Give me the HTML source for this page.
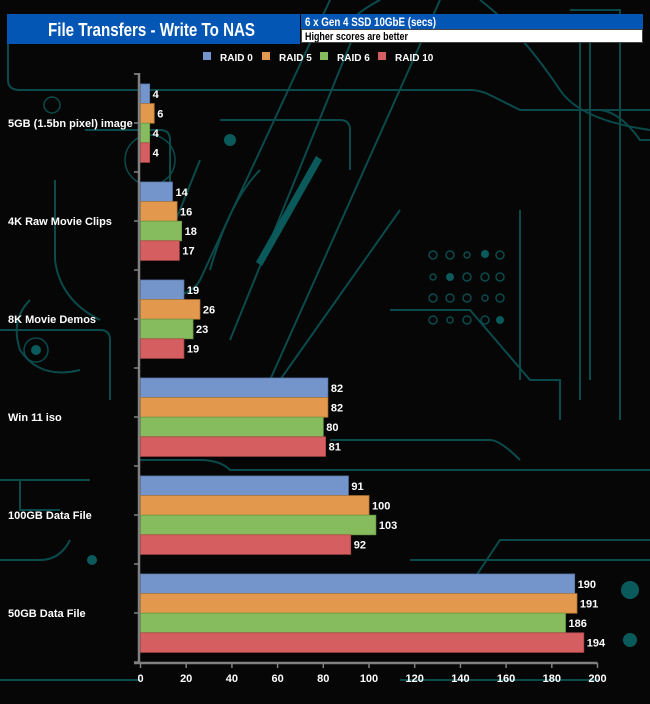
<!DOCTYPE html>
<html><head><meta charset="utf-8">
<style>
html,body{margin:0;padding:0;background:#050505;}
#wrap{position:relative;width:650px;height:704px;overflow:hidden;background:#060606;font-family:"Liberation Sans",Arial,sans-serif;}
svg{position:absolute;left:0;top:0;}
text{font-family:"Liberation Sans",Arial,sans-serif;}
</style></head>
<body>
<div id="wrap">
<svg id="bg" width="650" height="704">
 <g fill="none" stroke="#0b4a4b" stroke-width="2">
  <path d="M8 20 V80 Q8 90 20 90 H470 Q480 90 490 95 L520 110 H600 Q620 112 640 140 H650"/>
  <path d="M380 0 Q360 10 340 30"/>
  <path d="M480 0 Q520 30 560 90 Q580 120 650 130"/>
  <path d="M600 110 H650"/>
  <path d="M220 120 H340 Q350 120 350 130 V170"/>
  <path d="M85 130 H160 Q170 130 170 140 V220"/>
  <path d="M55 180 V260 Q60 300 100 320"/>
  <path d="M30 300 Q10 320 20 350 Q40 380 80 370"/>
  <path d="M0 330 H100 Q110 330 110 340 V400"/>
  <path d="M200 160 L160 260"/>
  <path d="M260 170 Q230 200 210 270"/>
  <path d="M330 0 L200 280 Q190 300 140 300"/>
  <path d="M360 20 L230 340"/>
  <path d="M440 0 L270 380 H140"/>
  <path d="M280 380 L400 210"/>
  <path d="M390 310 H470 L530 380 H560 V420"/>
  <path d="M520 210 V380"/>
  <path d="M570 10 H620 V420"/>
  <path d="M580 30 V400"/>
  <path d="M590 30 V380"/>
  <path d="M330 440 H490 Q500 440 520 460"/>
  <path d="M140 460 H200 Q220 460 230 470 H650"/>
  <path d="M0 480 H90"/>
  <path d="M20 480 V510 H60"/>
  <path d="M0 560 H40 Q60 560 70 540"/>
  <path d="M300 580 L250 640"/>
  <path d="M410 560 H650"/>
  <path d="M460 600 L500 540 H650"/>
  <path d="M0 680 H140"/>
  <path d="M400 680 H600"/>
 </g>
 <g fill="#0b5a5b">
  <circle cx="230" cy="140" r="6"/><circle cx="36" cy="350" r="5"/><circle cx="92" cy="560" r="5"/>
  <circle cx="630" cy="590" r="9"/><circle cx="630" cy="640" r="7"/><circle cx="510" cy="605" r="6"/>
  <circle cx="485" cy="254" r="4"/><circle cx="450" cy="277" r="4"/><circle cx="500" cy="320" r="4"/>
  <path d="M256 262 L316 156 L322 160 L262 266 Z"/>
 </g>
 <g fill="none" stroke="#0b4a4b" stroke-width="1.5">
  <circle cx="433" cy="255" r="4"/><circle cx="450" cy="255" r="4"/><circle cx="467" cy="255" r="3"/><circle cx="500" cy="255" r="4"/>
  <circle cx="433" cy="277" r="3"/><circle cx="467" cy="277" r="4"/><circle cx="485" cy="277" r="4"/><circle cx="500" cy="277" r="4"/>
  <circle cx="433" cy="298" r="4"/><circle cx="450" cy="298" r="4"/><circle cx="467" cy="298" r="4"/><circle cx="485" cy="298" r="3"/><circle cx="500" cy="298" r="4"/>
  <circle cx="433" cy="320" r="4"/><circle cx="450" cy="320" r="3"/><circle cx="467" cy="320" r="4"/><circle cx="485" cy="320" r="4"/>
  <circle cx="52" cy="105" r="8"/><circle cx="36" cy="350" r="12"/><circle cx="150" cy="160" r="25"/>
 </g>
</svg>
<svg id="chart" width="650" height="704"></svg>
</div>
<script>
const categories = ["5GB (1.5bn pixel) image","4K Raw Movie Clips","8K Movie Demos","Win 11 iso","100GB  Data File","50GB Data File"];
const seriesNames = ["RAID 0","RAID 5","RAID 6","RAID 10"];
const raid0 = [4,14,19,82,91,190];
const raid5 = [6,16,26,82,100,191];
const raid6 = [4,18,23,80,103,186];
const raid10 = [4,17,19,81,92,194];
const xTicks = [0,20,40,60,80,100,120,140,160,180,200];

const series = [raid0,raid5,raid6,raid10];
const colors = ["#7495cb","#e2994e","#86bc5e","#d55e60"];
const strokes = ["#5a77a8","#b87835","#6a9a47","#ad4648"];
const NS = "http://www.w3.org/2000/svg";
const svg = document.getElementById("chart");
const x0 = 140.5, x1 = 597.5, xMax = 200;
const xs = v => x0 + (v / xMax) * (x1 - x0);
const groupTop = 84, groupStep = 98, barH = 19.6;
const axisY = 663;
function mk(tag, attrs, parent){ const e = document.createElementNS(NS, tag); for (const k in attrs) e.setAttribute(k, attrs[k]); (parent||svg).appendChild(e); return e; }

// header
const t1 = mk("rect",{x:7,y:14,width:293,height:30,fill:"#0456b5"});


const tt = mk("text",{x:48,y:36,"font-size":"18","font-weight":"bold",fill:"#fff",textLength:"207",lengthAdjust:"spacingAndGlyphs"});
tt.textContent = "File Transfers - Write To  NAS";


const sb = mk("rect",{x:301,y:14,width:342,height:15,fill:"#0456b5"});


const st = mk("text",{x:305,y:26,"font-size":"11.5","font-weight":"bold",fill:"#fff",textLength:"131",lengthAdjust:"spacingAndGlyphs"});
st.textContent = "6 x Gen 4 SSD 10GbE (secs)";


const nb = mk("rect",{x:301.5,y:29.5,width:341,height:13,fill:"#fff",stroke:"#444"});


const nt = mk("text",{x:305,y:40,"font-size":"11","font-weight":"bold",fill:"#000",textLength:"103",lengthAdjust:"spacingAndGlyphs"});
nt.textContent = "Higher scores are better";



// legend
const legX = [203,262,320,378];
seriesNames.forEach((n,i)=>{
  const g = mk("g",{});
  
  
  mk("rect",{x:legX[i],y:52,width:8,height:8,fill:colors[i]},g);
  const tx = mk("text",{x:legX[i]+17,y:61,"font-size":"10","font-weight":"bold",fill:"#fff"},g);
  tx.textContent = n;
});

// bars
categories.forEach((c,ci)=>{
  const gt = groupTop + ci*groupStep;
  const lab = mk("text",{x:8,y:gt+2*barH+4,"font-size":"11","font-weight":"bold",fill:"#fff"});
  lab.textContent = c;
  
  
  series.forEach((s,si)=>{
    const y = gt + si*barH;
    const r = mk("rect",{x:x0,y:y,width:xs(s[ci])-x0,height:barH,fill:colors[si],stroke:strokes[si],"stroke-width":"0.8"});
    
    
    const v = mk("text",{x:xs(s[ci])+3,y:y+barH/2+4,"font-size":"11","font-weight":"bold",fill:"#fff"});
    v.textContent = s[ci];
    
    
  });
});

// axes
const ya = mk("line",{x1:139,y1:73,x2:139,y2:axisY,stroke:"#808080","stroke-width":"2.5"});


mk("line",{x1:134,y1:74,x2:140,y2:74,stroke:"#808080","stroke-width":"1.5"});
for (let k=0;k<=categories.length*2;k++){
  const y = 74 + k*groupStep/2;
  mk("line",{x1:134,y1:y,x2:139,y2:y,stroke:"#808080","stroke-width":"1.5"});
}
const xa = mk("line",{x1:134,y1:axisY,x2:x1,y2:axisY,stroke:"#808080","stroke-width":"2.5"});


xTicks.forEach(t=>{
  mk("line",{x1:xs(t),y1:axisY,x2:xs(t),y2:axisY+5,stroke:"#808080","stroke-width":"1.5"});
  const tl = mk("text",{x:xs(t),y:axisY+19,"font-size":"11","font-weight":"bold",fill:"#fff","text-anchor":"middle"});
  tl.textContent = t;
  
  
});
</script>
</body></html>
